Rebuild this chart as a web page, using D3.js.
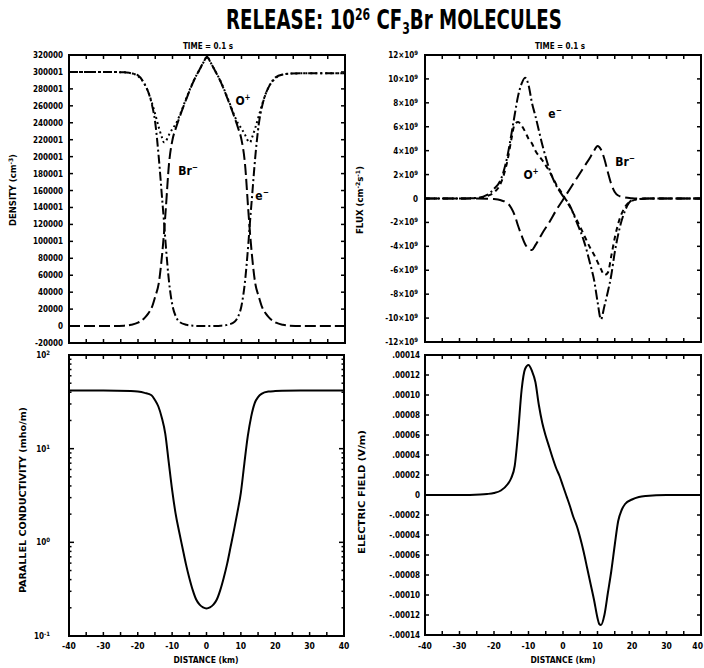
<!DOCTYPE html>
<html><head><meta charset="utf-8">
<script src="https://cdn.jsdelivr.net/npm/d3@7"></script>
<style>
html,body{margin:0;padding:0;background:#fff;}
svg{display:block;}
text{font-family:'DejaVu Sans Condensed','DejaVu Sans',sans-serif;font-weight:bold;fill:#000;}
</style></head>
<body>
<svg id="c" width="704" height="668"></svg>
<script>
// ---------- DATA ----------
const distTicks = [-40,-30,-20,-10,0,10,20,30,40];
const distTickLabels = ["-40","-30","-20","-10","0","10","20","30","40"];

// Density panel (cm^-3)
const densX  = [-40,-30,-24,-22,-20,-18,-17,-16,-15,-14,-13,-12.5,-12,-11,-10,-9,-8,-6,-4,-2,-1,0,1,2,4,6,8,9,10,11,12,12.5,13,14,15,16,17,18,20,22,24,30,40];
const densBr = [0,0,500,1500,4000,10000,15000,22000,35000,50000,85000,108000,135000,192000,220000,234000,246000,268000,288000,304000,311500,318000,311500,304000,288000,268000,246000,234000,220000,192000,135000,108000,85000,50000,35000,22000,15000,10000,4000,1500,500,0,0];
const densE  = [300000,300000,299500,298500,296000,285000,276000,262000,240000,200000,150000,125000,98000,52000,24000,11000,5000,1500,400,100,50,30,50,100,400,1500,5000,11000,24000,52000,98000,125000,150000,200000,238000,260000,274000,283000,294000,297000,298000,298500,298500];
const densO  = [300000,300000,299500,298500,295000,285000,276000,264000,250000,235000,222000,217000,218000,226000,233000,239000,248000,269000,288500,304000,311500,318000,311500,304000,288500,269000,248000,239000,233000,226000,218000,217000,222000,234000,248000,262000,274000,283000,293000,297000,298000,298500,298500];
const densTickValues = [320000,300000,280000,260000,240000,220000,200000,180000,160000,140000,120000,100000,80000,60000,40000,20000,0,-20000];
const densTickLabels = ["320000","300001","280001","260000","240000","220001","200001","180001","160000","140001","120000","100001","80000","60000","40000","20000","0","-20000"];

// Flux panel (units of 10^9 cm^-2 s^-1)
const fluxX  = [-40,-30,-25,-22,-20,-18,-16,-15,-14,-13,-12,-11,-10,-9,-8,-6,-4,-2,0,2,4,6,8,9,10,11,12,13,14,15,16,18,20,22,25,30,40];
const fluxE  = [0,0,0.05,0.3,0.8,1.6,3.7,5.3,7.0,8.6,9.6,10.1,9.5,8.0,6.9,4.5,2.5,1.1,0.2,-0.6,-2.0,-3.5,-5.6,-6.8,-8.6,-10.1,-9.0,-7.8,-6.4,-4.5,-3.0,-1.0,-0.15,-0.05,0,0,0];
const fluxO  = [0,0,0.03,0.2,0.5,1.3,3.3,4.9,6.2,6.4,6.1,5.6,5.0,4.6,4.0,3.2,2.3,1.2,0.3,-0.7,-1.8,-3.0,-4.2,-4.7,-5.3,-5.9,-6.4,-6.2,-4.8,-3.3,-2.1,-0.7,-0.2,-0.05,0,0,0];
const fluxBr = [0,0,0,-0.02,-0.05,-0.15,-0.4,-0.8,-1.4,-2.3,-3.1,-3.8,-4.2,-4.3,-3.9,-2.9,-2.0,-1.0,-0.1,0.8,1.7,2.6,3.5,4.0,4.4,4.1,3.3,2.2,1.2,0.55,0.25,0.08,0.02,0,0,0,0];
const fluxTickValues = [12,10,8,6,4,2,0,-2,-4,-6,-8,-10,-12];
const fluxTickMant   = ["12×10","10×10","8×10","6×10","4×10","2×10","0","-2×10","-4×10","-6×10","-8×10","-10×10","-12×10"];

// Parallel conductivity (mho/m)
const condX   = [-40,-30,-22,-20,-18,-16,-15,-14,-13,-12,-11,-10,-9,-8,-7,-6,-5,-4,-3,-2,-1,0,1,2,3,4,5,6,7,8,9,10,11,12,13,14,15,16,18,20,22,30,40];
const condVal = [41.7,41.7,41.2,40.7,39.4,37.2,33.1,28.2,21.4,14.5,7.24,3.63,2.04,1.32,0.881,0.589,0.417,0.309,0.245,0.216,0.202,0.197,0.202,0.216,0.245,0.309,0.417,0.589,0.89,1.35,2.1,3.4,6.9,13.5,22,30.5,35.5,38.5,40.7,41.2,41.5,41.7,41.7];
const condTickValues = [100,10,1,0.1];
const condTickExp    = ["2","1","0","-1"];

// Electric field (V/m)
const efX   = [-40,-30,-24,-22,-20,-18,-16,-15,-14,-13,-12,-11,-10,-9,-8,-7,-6,-5,-4,-3,-2,-1,0,1,2,3,4,5,6,7,8,9,10,10.5,11,12,13,14,15,16,17,18,20,22,24,30,40];
const efVal = [0,0,0.0000005,0.000001,0.000002,0.0000045,0.000011,0.000017,0.000029,0.000063,0.000105,0.000126,0.00013,0.000124,0.000113,0.00009,0.000072,0.000059,0.000048,0.000037,0.000027,0.000019,0.000009,-0.000001,-0.000011,-0.000022,-0.000031,-0.000043,-0.000057,-0.000073,-0.000089,-0.000105,-0.000123,-0.000129,-0.00013,-0.00012,-0.000098,-0.000076,-0.00005,-0.000026,-0.000015,-0.000009,-0.0000045,-0.000002,-0.000001,0,0];
const efTickValues = [0.00014,0.00012,0.0001,0.00008,0.00006,0.00004,0.00002,0,-0.00002,-0.00004,-0.00006,-0.00008,-0.0001,-0.00012,-0.00014];
const efTickLabels = [".00014",".00012",".00010",".00008",".00006",".00004",".00002","0","-.00002","-.00004","-.00006","-.00008","-.00010","-.00012","-.00014"];

// ---------- DRAW ----------
const svg = d3.select("#c");

{
  const title = svg.append("text").attr("x",0).attr("y",0).attr("font-size",25);
  title.append("tspan").text("RELEASE: 10");
  title.append("tspan").attr("dy",-9).attr("font-size",15).text("26");
  title.append("tspan").attr("dy",9).text(" CF");
  title.append("tspan").attr("dy",5).attr("font-size",15).text("3");
  title.append("tspan").attr("dy",-5).text("Br MOLECULES");
  const w = title.node().getBBox().width || 336;
  title.attr("transform",`translate(226,29) scale(${336/w},1.05)`);
}

function frame(g, x0, x1, y0, y1){
  g.append("rect").attr("x",x0).attr("y",y0).attr("width",x1-x0).attr("height",y1-y0)
   .attr("fill","none").attr("stroke","#000").attr("stroke-width",2);
}

function xTicks(g, xs, y0, y1){
  const vals = d3.range(-40,41,5);
  vals.forEach(v=>{
    const X = xs(v);
    g.append("line").attr("x1",X).attr("x2",X).attr("y1",y1).attr("y2",y1-4).attr("stroke","#000").attr("stroke-width",1.5);
    g.append("line").attr("x1",X).attr("x2",X).attr("y1",y0).attr("y2",y0+4).attr("stroke","#000").attr("stroke-width",1.5);
  });
}
function yTicks(g, ys, vals, x0, x1, len){
  vals.forEach(v=>{
    const Y = ys(v);
    g.append("line").attr("x1",x0).attr("x2",x0+len).attr("y1",Y).attr("y2",Y).attr("stroke","#000").attr("stroke-width",1.5);
    g.append("line").attr("x1",x1).attr("x2",x1-len).attr("y1",Y).attr("y2",Y).attr("stroke","#000").attr("stroke-width",1.5);
  });
}
function xLabels(g, xs, y, maxX){
  distTicks.forEach((v,i)=>{
    const t = g.append("text").attr("y",y).attr("font-size",8.5).text(distTickLabels[i]);
    let X = xs(v);
    if (maxX !== undefined && X + 6 > maxX) { t.attr("x",maxX).attr("text-anchor","end"); }
    else t.attr("x",X).attr("text-anchor","middle");
  });
}
function vTitle(x, y, len, parts){
  const t = svg.append("text").attr("transform",`translate(${x},${y}) rotate(-90)`).attr("text-anchor","middle")
    .attr("font-size",8.5).attr("textLength",len).attr("lengthAdjust","spacingAndGlyphs");
  parts(t);
}
function sup(t, s){ t.append("tspan").attr("dy",-3).attr("font-size",6).text(s); }
function base(t, s, dy){ t.append("tspan").attr("dy",dy||0).text(s); }

const lineGen = (xs, ys) => d3.line().x(d=>xs(d[0])).y(d=>ys(d[1])).curve(d3.curveMonotoneX);
function curve(g, xs, ys, X, Y, dash){
  g.append("path").datum(X.map((x,i)=>[x,Y[i]])).attr("d",lineGen(xs,ys))
   .attr("fill","none").attr("stroke","#000").attr("stroke-width",2).attr("stroke-dasharray",dash||null);
}
function label(g, x, y, main, supTxt){
  const t = g.append("text").attr("x",x).attr("y",y).attr("font-size",12).attr("text-anchor","middle");
  t.append("tspan").text(main);
  t.append("tspan").attr("dy",-5).attr("font-size",8).text(supTxt);
}

// ----- Top-left: density -----
{
  const x0=69,x1=345,y0=55,y1=343;
  const xs=d3.scaleLinear().domain([-40,40]).range([x0,x1]);
  const ys=d3.scaleLinear().domain([-20000,320000]).range([y1,y0]);
  const g=svg.append("g");
  g.append("text").attr("x",208).attr("y",49).attr("text-anchor","middle").attr("font-size",8).text("TIME =  0.1 s");
  curve(g,xs,ys,densX,densBr,"11,4");
  curve(g,xs,ys,densX,densE,"9,3,2,3");
  curve(g,xs,ys,densX,densO,"2,3");
  frame(g,x0,x1,y0,y1);
  xTicks(g,xs,y0,y1);
  yTicks(g,ys,densTickValues,x0,x1,4);
  densTickValues.forEach((v,i)=>{
    g.append("text").attr("x",63).attr("y",ys(v)+3).attr("text-anchor","end").attr("font-size",8).text(densTickLabels[i]);
  });
  label(g,243,105,"O","+");
  label(g,188,175,"Br","−");
  label(g,262,200,"e","−");
  vTitle(16,190,72,t=>{ base(t,"DENSITY (cm"); sup(t,"-3"); base(t,")",3); });
}

// ----- Top-right: flux -----
{
  const x0=425,x1=701,y0=55,y1=342;
  const xs=d3.scaleLinear().domain([-40,40]).range([x0,x1]);
  const ys=d3.scaleLinear().domain([-12,12]).range([y1,y0]);
  const g=svg.append("g");
  g.append("text").attr("x",560).attr("y",49).attr("text-anchor","middle").attr("font-size",8).text("TIME =  0.1 s");
  curve(g,xs,ys,fluxX,fluxBr,"12,5");
  curve(g,xs,ys,fluxX,fluxE,"10,3,2,3");
  curve(g,xs,ys,fluxX,fluxO,"5,4");
  frame(g,x0,x1,y0,y1);
  xTicks(g,xs,y0,y1);
  yTicks(g,ys,fluxTickValues,x0,x1,4);
  fluxTickValues.forEach((v,i)=>{
    const t=g.append("text").attr("x",418).attr("y",ys(v)+3).attr("text-anchor","end").attr("font-size",8);
    t.append("tspan").text(fluxTickMant[i]);
    if(v!==0) t.append("tspan").attr("dy",-3).attr("font-size",6).text("9");
  });
  label(g,555,118,"e","−");
  label(g,531,179,"O","+");
  label(g,625,166,"Br","−");
  vTitle(363,200,68,t=>{ base(t,"FLUX (cm"); sup(t,"-2"); base(t,"s",3); sup(t,"-1"); base(t,")",3); });
}

// ----- Bottom-left: conductivity -----
{
  const x0=69,x1=344,y0=355,y1=636;
  const xs=d3.scaleLinear().domain([-40,40]).range([x0,x1]);
  const ys=d3.scaleLog().domain([0.1,100]).range([y1,y0]);
  const g=svg.append("g");
  curve(g,xs,ys,condX,condVal,null);
  frame(g,x0,x1,y0,y1);
  xTicks(g,xs,y0,y1);
  const minor=[];
  [0.1,1,10].forEach(b=>d3.range(2,10).forEach(k=>minor.push(b*k)));
  yTicks(g,ys,minor,x0,x1,2.5);
  yTicks(g,ys,condTickValues,x0,x1,5);
  condTickValues.forEach((v,i)=>{
    const t=g.append("text").attr("x",50).attr("y",ys(v)+3).attr("text-anchor","end").attr("font-size",8);
    t.append("tspan").text("10");
    t.append("tspan").attr("dy",-3).attr("font-size",6).text(condTickExp[i]);
  });
  xLabels(g,xs,649);
  g.append("text").attr("x",206).attr("y",663).attr("text-anchor","middle").attr("font-size",8.5).text("DISTANCE (km)");
  vTitle(26,500,186,t=>{ base(t,"PARALLEL CONDUCTIVITY (mho/m)"); });
}

// ----- Bottom-right: electric field -----
{
  const x0=425,x1=701,y0=355,y1=635;
  const xs=d3.scaleLinear().domain([-40,40]).range([x0,x1]);
  const ys=d3.scaleLinear().domain([-0.00014,0.00014]).range([y1,y0]);
  const g=svg.append("g");
  curve(g,xs,ys,efX,efVal,null);
  frame(g,x0,x1,y0,y1);
  xTicks(g,xs,y0,y1);
  yTicks(g,ys,efTickValues,x0,x1,4);
  efTickValues.forEach((v,i)=>{
    g.append("text").attr("x",420).attr("y",ys(v)+3).attr("text-anchor","end").attr("font-size",8).text(efTickLabels[i]);
  });
  xLabels(g,xs,649,703);
  g.append("text").attr("x",563).attr("y",663).attr("text-anchor","middle").attr("font-size",8.5).text("DISTANCE (km)");
  vTitle(365,492,124,t=>{ base(t,"ELECTRIC FIELD (V/m)"); });
}
</script>
</body></html>
